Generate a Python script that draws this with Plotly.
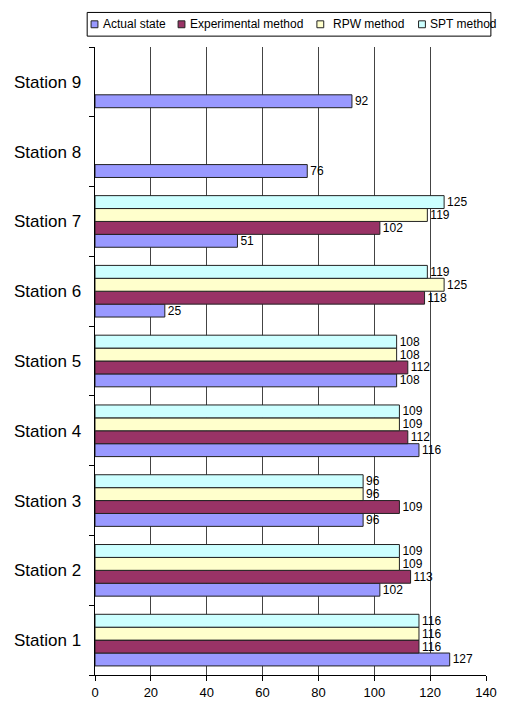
import plotly.graph_objects as go

stations = ["Station 1", "Station 2", "Station 3", "Station 4", "Station 5",
            "Station 6", "Station 7", "Station 8", "Station 9"]

actual_state = [127, 102, 96, 116, 108, 25, 51, 76, 92]
experimental = [116, 113, 109, 112, 112, 118, 102, None, None]
rpw_method = [116, 109, 96, 109, 108, 125, 119, None, None]
spt_method = [116, 109, 96, 109, 108, 119, 125, None, None]

x_ticks = [0, 20, 40, 60, 80, 100, 120, 140]

series_names = ["Actual state", "Experimental method", "RPW method", "SPT method"]
series_values = [actual_state, experimental, rpw_method, spt_method]
series_colors = ["#9999FF", "#993366", "#FFFFCC", "#CCFFFF"]

FONT = "Liberation Sans, Arial"
W, H = 509, 712
ML, MR, MT, MB = 95, 14, 47, 29
PW, PH = W - ML - MR, H - MT - MB


def px_x(px):
    """Pixel column -> paper x."""
    return (px - ML) / PW


def px_y(py):
    """Pixel row (from top) -> paper y."""
    return (H - MB - py) / PH


fig = go.Figure()
for name, vals, color in zip(series_names, series_values, series_colors):
    fig.add_trace(go.Bar(
        name=name,
        y=stations,
        x=vals,
        orientation="h",
        marker=dict(color=color, line=dict(color="#222222", width=1)),
        text=[("" if v is None else str(v)) for v in vals],
        textposition="outside",
        textfont=dict(family=FONT, size=12, color="#000000"),
        constraintext="none",
        cliponaxis=False,
        showlegend=False,
    ))

# Legend drawn as a framed row of small swatches with labels
shapes = [dict(
    type="rect", xref="paper", yref="paper",
    x0=px_x(87), x1=px_x(500), y0=px_y(36), y1=px_y(12),
    line=dict(color="#000000", width=1), fillcolor="#FFFFFF", layer="above",
)]
annotations = []
swatch_left = [91, 180, 322, 426]
label_left = [101, 190, 336, 436]
for name, color, sx, lx in zip(series_names, series_colors, swatch_left, label_left):
    shapes.append(dict(
        type="rect", xref="paper", yref="paper",
        x0=px_x(sx), x1=px_x(sx + 7), y0=px_y(27.5), y1=px_y(20.5),
        line=dict(color="#222222", width=1), fillcolor=color, layer="above",
    ))
    annotations.append(dict(
        text=name, xref="paper", yref="paper",
        x=px_x(lx), y=px_y(24), xanchor="left", yanchor="middle",
        showarrow=False, font=dict(family=FONT, size=12, color="#000000"),
    ))

fig.update_layout(
    width=W,
    height=H,
    barmode="group",
    bargap=0.26,
    bargroupgap=0,
    plot_bgcolor="#FFFFFF",
    paper_bgcolor="#FFFFFF",
    margin=dict(l=ML, r=MR, t=MT, b=MB),
    font=dict(family=FONT, color="#000000"),
    showlegend=False,
    shapes=shapes,
    annotations=annotations,
    xaxis=dict(
        range=[0, 140],
        tickvals=x_ticks,
        showgrid=True,
        gridcolor="#444444",
        gridwidth=1,
        showline=True,
        linecolor="#000000",
        linewidth=1,
        ticks="outside",
        ticklen=5,
        tickcolor="#000000",
        tickfont=dict(size=13),
        zeroline=False,
        fixedrange=True,
    ),
    yaxis=dict(
        categoryorder="array",
        categoryarray=stations,
        showgrid=False,
        showline=True,
        linecolor="#000000",
        linewidth=1,
        ticks="outside",
        tickson="boundaries",
        ticklen=5,
        tickcolor="#000000",
        tickfont=dict(size=17),
        ticksuffix="  ",
        fixedrange=True,
    ),
)

fig.write_html("out.html")
